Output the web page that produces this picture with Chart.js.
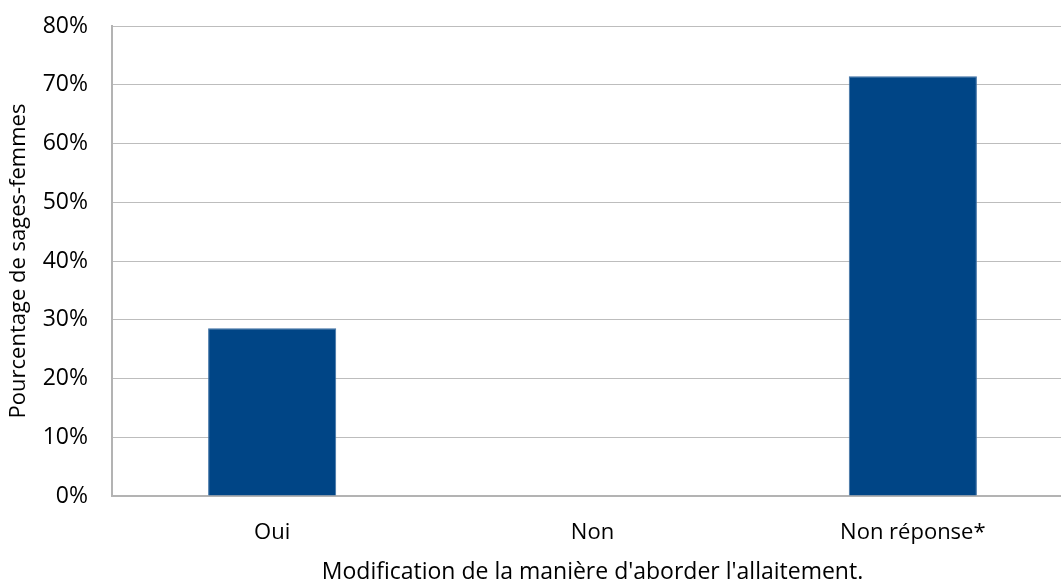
<!DOCTYPE html>
<html>
<head>
<meta charset="utf-8">
<script src="https://cdn.jsdelivr.net/npm/chart.js@4"></script>
<style>
  html, body { margin: 0; padding: 0; background: #fff; overflow: hidden; }
  #wrap { width: 1075px; height: 581px; }
</style>
</head>
<body>
<div id="wrap"><canvas id="chart" width="1075" height="581"></canvas></div>
<script>
const categories = ["Oui", "Non", "Non réponse*"];
const values = [28.57, 0, 71.43];
const yTicks = [0, 10, 20, 30, 40, 50, 60, 70, 80];

const font = "'Open Sans', 'DejaVu Sans', sans-serif";

const ctx = document.getElementById("chart").getContext("2d");
new Chart(ctx, {
  type: "bar",
  data: {
    labels: categories,
    datasets: [
      {
        data: values,
        backgroundColor: "#004586",
        borderColor: "#3d6fa3",
        borderWidth: 1,
        categoryPercentage: 1,
        barPercentage: 0.4,
      },
    ],
  },
  options: {
    responsive: false,
    animation: false,
    layout: { padding: { top: 26, right: 2, left: 0, bottom: 0 } },
    plugins: {
      legend: { display: false },
      tooltip: { enabled: false },
    },
    scales: {
      x: {
        afterFit: (axis) => { axis.height = 85; },
        grid: { display: false, drawTicks: false },
        border: { color: "#b3b3b3", width: 2 },
        ticks: { color: "#000", font: { family: font, size: 22 }, padding: 24 },
        title: {
          display: true,
          text: "Modification de la manière d'aborder l'allaitement.",
          color: "#000",
          font: { family: font, size: 23 },
          padding: { top: 0, bottom: -5 },
        },
      },
      y: {
        min: 0,
        max: 80,
        afterFit: (axis) => {
          axis.width = 112;
          axis.paddingTop = 0;
          axis.paddingBottom = 0;
        },
        afterBuildTicks: (axis) => {
          axis.ticks = yTicks.map((v) => ({ value: v }));
        },
        grid: { color: "#bdbdbd", lineWidth: 1, drawTicks: false },
        border: { color: "#b3b3b3", width: 2 },
        ticks: {
          color: "#000",
          font: { family: font, size: 23 },
          padding: 24,
          callback: (v) => v + "%",
        },
        title: {
          display: true,
          text: "Pourcentage de sages-femmes",
          color: "#000",
          font: { family: font, size: 22 },
          padding: { top: 6, bottom: 0 },
        },
      },
    },
  },
});
</script>
</body>
</html>
